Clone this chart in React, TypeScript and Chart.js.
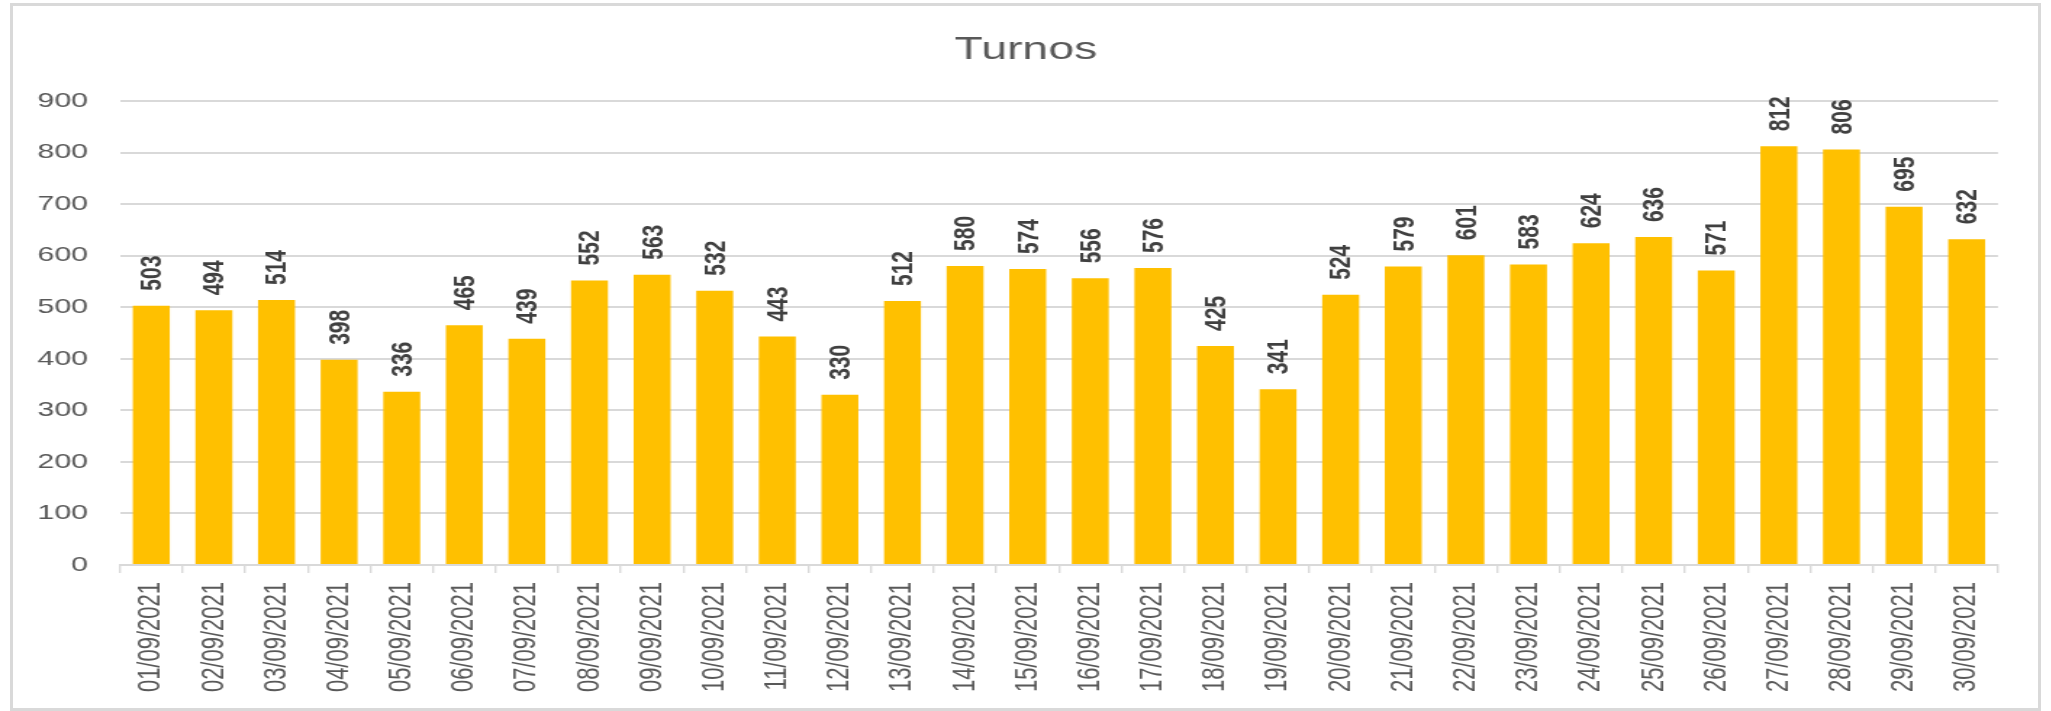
import React, { useEffect, useRef } from "react";
import { Chart, registerables } from "chart.js";

Chart.register(...registerables);

const chartTitle = "Turnos";
const categories = [
  "01/09/2021", "02/09/2021", "03/09/2021", "04/09/2021", "05/09/2021",
  "06/09/2021", "07/09/2021", "08/09/2021", "09/09/2021", "10/09/2021",
  "11/09/2021", "12/09/2021", "13/09/2021", "14/09/2021", "15/09/2021",
  "16/09/2021", "17/09/2021", "18/09/2021", "19/09/2021", "20/09/2021",
  "21/09/2021", "22/09/2021", "23/09/2021", "24/09/2021", "25/09/2021",
  "26/09/2021", "27/09/2021", "28/09/2021", "29/09/2021", "30/09/2021",
];
const turnos = [
  503, 494, 514, 398, 336, 465, 439, 552, 563, 532,
  443, 330, 512, 580, 574, 556, 576, 425, 341, 524,
  579, 601, 583, 624, 636, 571, 812, 806, 695, 632,
];
const yMin = 0;
const yMax = 900;
const yStep = 100;

const STRETCH = 1.45;
const CW = 1415;
const CH = 711;
const FONT = "'Liberation Sans', Arial, sans-serif";

const dataLabelPlugin = {
  id: "dataLabelsRotated",
  afterDatasetsDraw(chart: any) {
    const ctx = chart.ctx;
    const meta = chart.getDatasetMeta(0);
    const data = chart.data.datasets[0].data;
    ctx.save();
    ctx.font = `bold 21px ${FONT}`;
    ctx.fillStyle = "#404040";
    ctx.textAlign = "left";
    ctx.textBaseline = "middle";
    meta.data.forEach((bar: any, i: number) => {
      ctx.save();
      ctx.translate(bar.x + 1, bar.y - 15);
      ctx.rotate(-Math.PI / 2);
      ctx.fillText(String(data[i]), 0, 0);
      ctx.restore();
    });
    ctx.restore();
  },
};

export default function App() {
  const ref = useRef<HTMLCanvasElement | null>(null);
  useEffect(() => {
    if (!ref.current) return;
    const chart = new Chart(ref.current, {
      type: "bar",
      data: {
        labels: categories,
        datasets: [
          {
            label: chartTitle,
            data: turnos,
            backgroundColor: "#FFC000",
            borderWidth: 0,
            barPercentage: 0.59,
            categoryPercentage: 1,
            yAxisID: "y",
          },
        ],
      },
      options: {
        responsive: false,
        animation: false,
        devicePixelRatio: 1,
        layout: { padding: { left: 0, right: 0, top: 0, bottom: 0 } },
        plugins: {
          legend: { display: false },
          tooltip: { enabled: false },
          title: {
            display: true,
            text: chartTitle,
            color: "#595959",
            font: { family: FONT, size: 32, weight: "normal", lineHeight: 1.2 },
            padding: { top: 31, bottom: 31.6 },
          },
        },
        scales: {
          x: {
            offset: true,
            grid: {
              offset: true,
              drawOnChartArea: false,
              drawTicks: true,
              tickLength: 8,
              color: "#d9d9d9",
              lineWidth: 1.4,
            },
            border: { display: true, color: "#d9d9d9", width: 2 },
            ticks: {
              autoSkip: false,
              minRotation: 90,
              maxRotation: 90,
              padding: 9,
              color: "#595959",
              font: { family: FONT, size: 22 },
            },
            afterFit(scale: any) {
              scale.height = 146;
            },
          },
          y: {
            position: "left",
            min: yMin,
            max: yMax,
            grid: { color: "#d9d9d9", lineWidth: 2, drawTicks: false },
            border: { display: false },
            ticks: {
              stepSize: yStep,
              padding: 22,
              color: "#595959",
              font: { family: FONT, size: 21 },
            },
            afterFit(scale: any) {
              scale.width = 82.76;
            },
          },
          spacer: {
            type: "linear",
            position: "right",
            min: yMin,
            max: yMax,
            grid: { display: false, drawTicks: false },
            border: { display: false },
            ticks: { display: false },
            afterFit(scale: any) {
              scale.width = 37.1;
            },
          },
        },
      },
      plugins: [dataLabelPlugin],
    });
    return () => chart.destroy();
  }, []);

  return (
    <div
      style={{
        position: "absolute",
        left: 0,
        top: 0,
        width: 2051,
        height: 711,
        background: "#ffffff",
        overflow: "hidden",
      }}
    >
      <div
        style={{
          position: "absolute",
          left: 0,
          top: 0,
          width: CW,
          height: CH,
          transform: `scaleX(${STRETCH})`,
          transformOrigin: "0 0",
        }}
      >
        <canvas ref={ref} width={CW} height={CH} />
      </div>
      <div
        style={{
          position: "absolute",
          left: 10,
          top: 3,
          width: 2031,
          height: 708,
          border: "3px solid #d9d9d9",
          boxSizing: "border-box",
          pointerEvents: "none",
        }}
      />
    </div>
  );
}
